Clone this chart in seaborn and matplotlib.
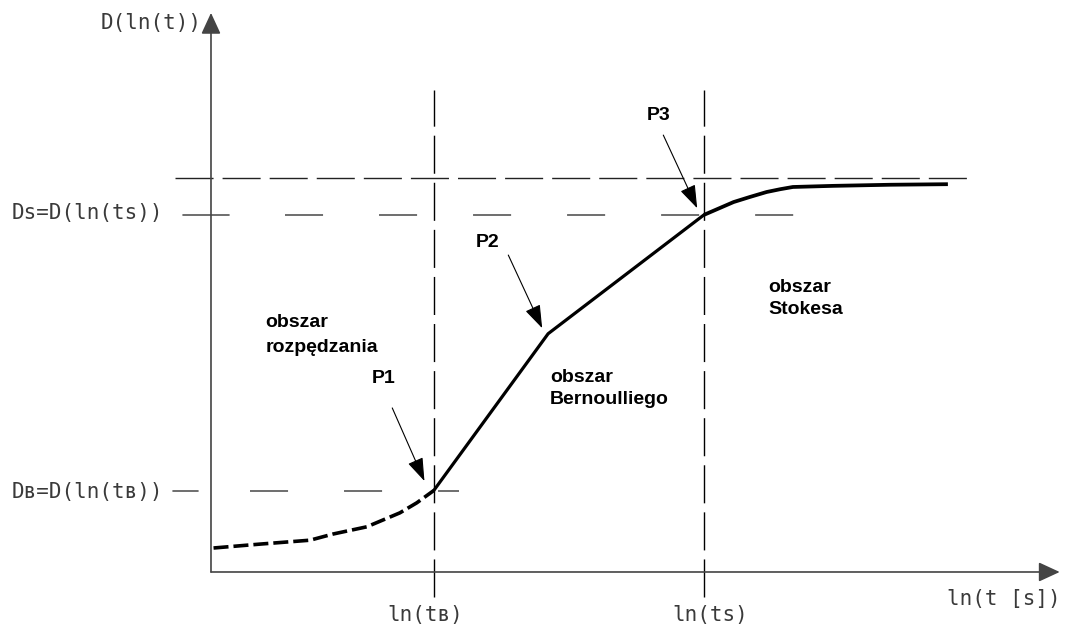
import matplotlib
matplotlib.use("Agg")
import matplotlib.pyplot as plt
import seaborn as sns
import pandas as pd

# --- curve D(ln t): acceleration region (dashed), Bernoulli region, Stokes region ---
accel_x = [0.03, 0.58, 1.17, 1.44, 1.84, 2.23, 2.43, 2.63]
accel_y = [0.43, 0.50, 0.57, 0.68, 0.81, 1.06, 1.24, 1.46]

bern_x = [2.63, 3.98, 5.82]
bern_y = [1.46, 4.27, 6.40]

stokes_x = [5.82, 6.17, 6.36, 6.56, 6.72, 6.87, 7.34, 8.02, 8.70]
stokes_y = [6.40, 6.63, 6.72, 6.81, 6.86, 6.90, 6.92, 6.94, 6.95]

# characteristic points
ln_tB, D_B = 2.63, 1.46
ln_tS, D_S = 5.82, 6.40
D_max = 7.06

axis_labels = {"y": "D(ln(t))", "x": "ln(t [s])"}
level_labels = ["D\u0299=D(ln(t\u0299))", "Ds=D(ln(ts))"]
time_labels = ["ln(t\u0299)", "ln(ts)"]
region_labels = [["obszar", "rozpędzania"], ["obszar", "Bernoulliego"], ["obszar", "Stokesa"]]
point_labels = ["P1", "P2", "P3"]

sns.set_theme(style="white")
plt.rcParams["lines.scale_dashes"] = False
plt.rcParams["font.family"] = ["DejaVu Sans", "Noto Sans"]

fig = plt.figure(figsize=(10.68, 6.24), dpi=100)
ax = fig.add_axes([0, 0, 1, 1])
ax.set_xlim(-2.491, 10.118)
ax.set_ylim(-0.932, 10.251)
ax.axis("off")

df_a = pd.DataFrame({"x": accel_x, "y": accel_y})
df_b = pd.DataFrame({"x": bern_x, "y": bern_y})
df_s = pd.DataFrame({"x": stokes_x, "y": stokes_y})

sns.lineplot(data=df_a, x="x", y="y", ax=ax, color="black", lw=2.6,
             sort=False, estimator=None, linestyle=(0, (10.8, 3.6)))
sns.lineplot(data=df_b, x="x", y="y", ax=ax, color="black", lw=2.3,
             sort=False, estimator=None, solid_joinstyle="round")
sns.lineplot(data=df_s, x="x", y="y", ax=ax, color="black", lw=2.7,
             sort=False, estimator=None, solid_capstyle="butt")

# coordinate axes with arrow heads
axis_arrow = dict(arrowstyle="-|>,head_length=0.65,head_width=0.3",
                  color="#444444", lw=1.2, shrinkA=0, shrinkB=0, mutation_scale=20)
ax.annotate("", xy=(0, 10.02), xytext=(0, 0), arrowprops=axis_arrow)
ax.annotate("", xy=(10.02, 0), xytext=(0, 0), arrowprops=axis_arrow)

# guide lines
ax.plot([-0.43, 8.94], [D_max, D_max], color="#222222", lw=1.0,
        linestyle=(0, (27.4, 6.5)))
for xv in (ln_tB, ln_tS):
    ax.plot([xv, xv], [-0.45, 8.64], color="black", lw=1.0,
            linestyle=(0, (27.4, 6.5)))

ax.plot([-0.33, 0.21], [D_S, D_S], color="#555555", lw=1.2)
ax.plot([0.87, 6.95], [D_S, D_S], color="#555555", lw=1.2,
        linestyle=(0, (27.4, 40.3)))
ax.plot([-0.45, -0.15], [D_B, D_B], color="#555555", lw=1.2)
ax.plot([0.46, 2.93], [D_B, D_B], color="#555555", lw=1.2,
        linestyle=(0, (27.4, 40.3)))

# axis and level labels
mono = dict(family=["DejaVu Sans Mono", "DejaVu Sans"], fontsize=15, color="#3a3a3a")
ax.text(-0.106, 9.84, axis_labels["y"], ha="right", va="center", **mono)
ax.text(10.03, -0.48, axis_labels["x"], ha="right", va="center", **mono)
ax.text(-2.35, D_B - 0.03, level_labels[0], ha="left", va="center", **mono)
ax.text(-2.35, D_S + 0.03, level_labels[1], ha="left", va="center", **mono)
ax.text(2.53, -0.77, time_labels[0], ha="center", va="center", **mono)
ax.text(5.89, -0.77, time_labels[1], ha="center", va="center", **mono)

# region descriptions
bold = dict(family=["Liberation Sans", "DejaVu Sans"], fontweight="bold",
            fontsize=14, color="black")
region_pos = [(0.64, 4.48, 4.03), (4.00, 3.49, 3.10), (6.58, 5.09, 4.70)]
for (x0, y1, y2), (l1, l2) in zip(region_pos, region_labels):
    ax.text(x0, y1, l1, ha="left", va="center", **bold)
    ax.text(x0, y2, l2, ha="left", va="center", **bold)

# characteristic points with pointer arrows
pt_text = [(2.04, 3.46), (3.27, 5.91), (5.28, 8.19)]
pt_from = [(2.14, 2.94), (3.51, 5.68), (5.34, 7.83)]
pt_to = [(2.52, 1.63), (3.91, 4.37), (5.74, 6.52)]
ptr_arrow = dict(arrowstyle="-|>,head_length=0.72,head_width=0.25",
                 color="black", lw=0.8, shrinkA=0, shrinkB=0, mutation_scale=20)
for lbl, tp, a0, a1 in zip(point_labels, pt_text, pt_from, pt_to):
    ax.text(tp[0], tp[1], lbl, ha="center", va="center", **bold)
    ax.annotate("", xy=a1, xytext=a0, arrowprops=ptr_arrow)

fig.savefig("out.png", dpi=100, facecolor="white")
